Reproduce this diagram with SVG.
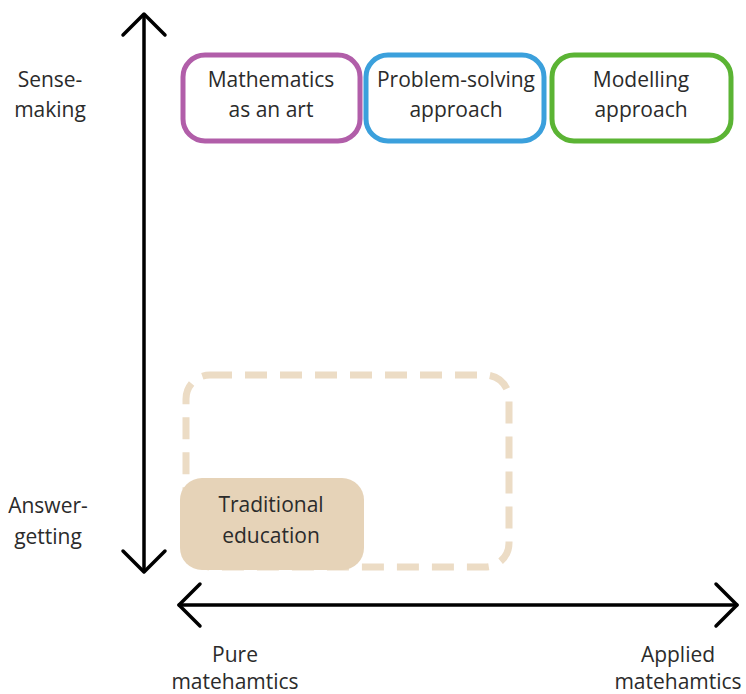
<svg xmlns="http://www.w3.org/2000/svg" width="746" height="694" viewBox="0 0 746 694">
  <style>
    text { font-family: "Open Sans", "Liberation Sans", sans-serif; font-size: 21px; fill: #2b2b2b; text-anchor: middle; }
    .axis { stroke: #000; stroke-width: 3.5; fill: none; stroke-linecap: round; stroke-linejoin: round; }
    .box { fill: #fff; stroke-width: 5; }
  </style>
  <rect width="746" height="694" fill="#fff"/>

  <!-- axes -->
  <g id="connectors">
    <path class="axis" d="M144 15 V571"/>
    <path class="axis" d="M123 35 L144 14 L165 35"/>
    <path class="axis" d="M123 551 L144 572 L165 551"/>
    <path class="axis" d="M179 605 H737"/>
    <path class="axis" d="M200 584 L179 605 L200 626"/>
    <path class="axis" d="M716 584 L737 605 L716 626"/>
  </g>

  <!-- axis labels -->
  <g id="label-sense">
    <text x="50" y="87">Sense-</text>
    <text x="50" y="117">making</text>
  </g>
  <g id="label-answer">
    <text x="48" y="513">Answer-</text>
    <text x="48" y="544">getting</text>
  </g>
  <g id="label-pure">
    <text x="235" y="662">Pure</text>
    <text x="235" y="689">matehamtics</text>
  </g>
  <g id="label-applied">
    <text x="678" y="662">Applied</text>
    <text x="678" y="689">matehamtics</text>
  </g>

  <!-- approaches -->
  <g id="art">
    <rect class="box" x="183" y="55" width="177" height="86" rx="22" stroke="#b15ea9"/>
    <text x="271" y="87">Mathematics</text>
    <text x="271" y="117">as an art</text>
  </g>
  <g id="problem-solving">
    <rect class="box" x="366" y="55" width="178" height="86" rx="22" stroke="#3ba0dc"/>
    <text x="456" y="87">Problem-solving</text>
    <text x="456" y="117">approach</text>
  </g>
  <g id="modelling">
    <rect class="box" x="552" y="55" width="179" height="86" rx="22" stroke="#5bb434"/>
    <text x="641" y="87">Modelling</text>
    <text x="641" y="117">approach</text>
  </g>

  <!-- traditional education region -->
  <g id="region">
    <rect x="186" y="375" width="323" height="192" rx="24" fill="none" stroke="#ecdcc5" stroke-width="7" stroke-dasharray="22 13"/>
  </g>
  <g id="traditional">
    <rect x="180" y="478" width="184" height="92" rx="22" fill="#e6d3b8"/>
    <text x="271" y="512">Traditional</text>
    <text x="271" y="543">education</text>
  </g>
</svg>
